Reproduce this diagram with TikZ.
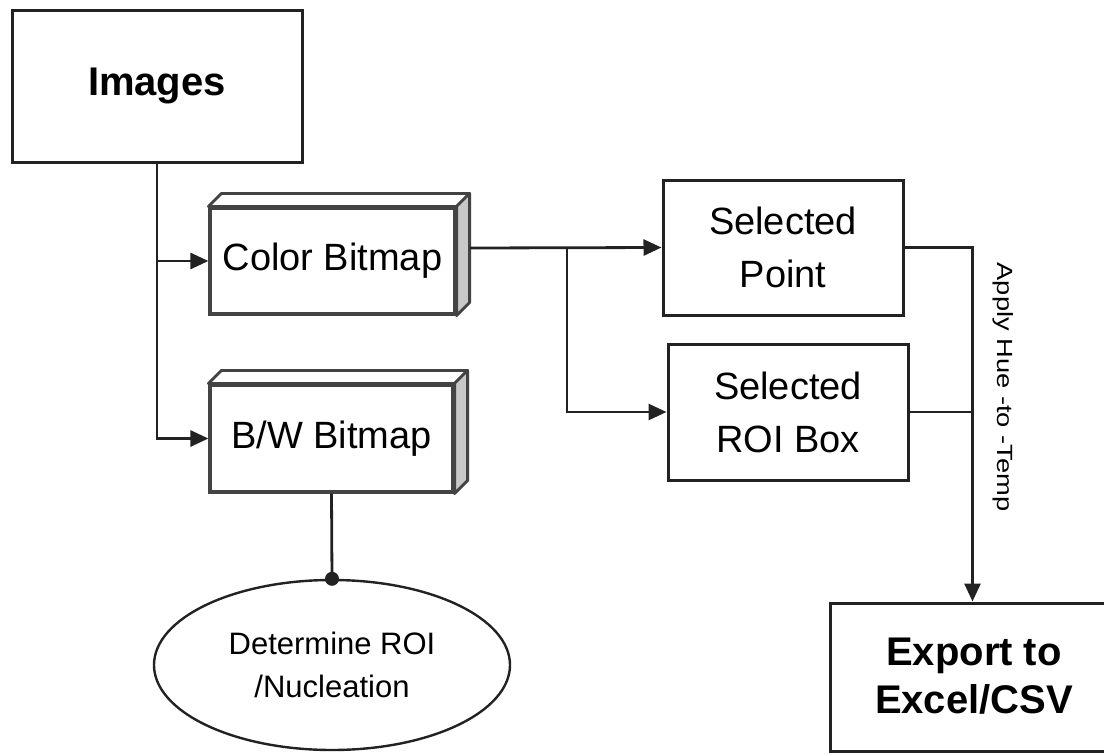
\documentclass[tikz,border=0pt]{standalone}
\usepackage{fontspec}
\setmainfont{Liberation Sans}
\usetikzlibrary{arrows.meta,calc,shapes.geometric}

\definecolor{edge}{HTML}{222222}
\definecolor{sideface}{HTML}{C8C8C8}

\tikzset{
  flat/.style={draw=edge, line width=3pt, fill=white, inner sep=0pt, align=center},
  slab/.style={draw=edge!85, line width=3.2pt, fill=white, inner sep=0pt, align=center},
  link/.style={draw=edge, line width=2.8pt},
  arr/.style={link, -{Triangle[length=18pt,width=16pt]}},
}

\newcommand{\boxdepth}[1]{%
  % top and side faces of a raised box
  \draw[draw=edge!85, line width=2.8pt, fill=white, line join=round]
    (#1.north west) -- ++(13,-13) -- ($(#1.north east)+(13,-13)$) -- (#1.north east) -- cycle;
  \draw[draw=edge!85, line width=2.8pt, fill=sideface, line join=round]
    (#1.north east) -- ++(13,-13) -- ($(#1.south east)+(13,-13)$) -- (#1.south east) -- cycle;
}

\begin{document}
\begin{tikzpicture}[x=1pt, y=-1pt]
\useasboundingbox (0,0) rectangle (1104,753);
\clip (0,0) rectangle (1104,753);

% source
\node[flat, minimum width=290pt, minimum height=152pt, font=\bfseries\fontsize{40}{48}\selectfont]
  (img) at (157,86) {Images};

% bitmaps
\node[slab, minimum width=245pt, minimum height=106pt, font=\fontsize{38}{46}\selectfont]
  (col) at (332.5,261) {Color Bitmap};
\boxdepth{col}
\node[slab, minimum width=243pt, minimum height=107pt, font=\fontsize{38}{46}\selectfont]
  (bw) at (331.5,438.5) {B/W Bitmap};
\boxdepth{bw}

% selections
\node[flat, minimum width=240pt, minimum height=135pt, font=\fontsize{38}{53}\selectfont]
  (pt) at (783,247.5) {Selected\\Point};
\node[flat, minimum width=240pt, minimum height=136pt, font=\fontsize{38}{53}\selectfont]
  (roi) at (788,412) {Selected\\ROI Box};

% export
\node[flat, minimum width=285pt, minimum height=148pt] (ex) at (972.5,677) {};
\node[font=\bfseries\fontsize{40}{48}\selectfont, align=center] (extext) at (974,676)
  {Export to\\Excel/CSV};

% ROI step
\node[draw=edge, line width=2.4pt, ellipse, minimum width=356pt, minimum height=170pt, inner sep=0pt,
      align=center, font=\fontsize{31}{43}\selectfont]
  (roiell) at (332,665) {Determine ROI\\/Nucleation};

% connectors
\draw[arr] (img.south) |- (bw.west);
\draw[arr] (img.south |- col.west) -- (col.west);

\coordinate (colout) at ($(col.east)+(13,-13)$);
\coordinate (fork) at (567,0);
\draw[arr] (colout) -- (pt.west);
\draw[arr] (fork |- colout) |- (roi.west);

\draw[arr] (pt.east) -| (ex.north);
\draw[link] (roi.east) -- (roi.east -| ex.north);

\node[rotate=-90, font=\fontsize{22}{26}\selectfont] (hue) at (1003,387)
  {\scalebox{1.24}[1]{Apply Hue -to -Temp}};

\draw[link] (bw.south) -- (roiell.north);
\fill[edge] (roiell.north) circle (7);
\end{tikzpicture}
\end{document}
